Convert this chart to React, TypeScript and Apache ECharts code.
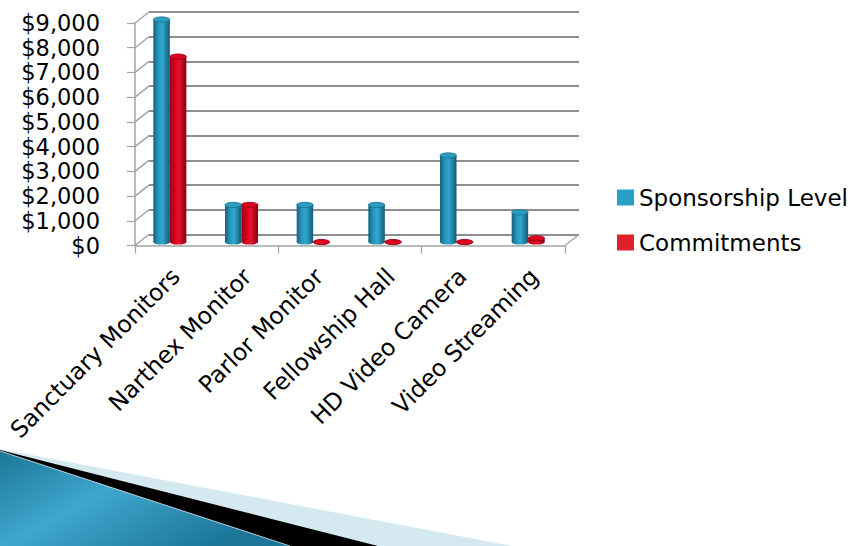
import React, { useEffect, useRef } from "react";
import * as echarts from "echarts";

const categories = [
  "Sanctuary Monitors",
  "Narthex Monitor",
  "Parlor Monitor",
  "Fellowship Hall",
  "HD Video Camera",
  "Video Streaming",
];
const sponsorship = [9000, 1500, 1500, 1500, 3500, 1200];
const commitments = [7500, 1500, 0, 0, 0, 150];
const yTicks = [0, 1000, 2000, 3000, 4000, 5000, 6000, 7000, 8000, 9000];
const seriesNames = ["Sponsorship Level", "Commitments"];

const FONT = "DejaVu Sans";
const BAR_W = 16.5;
const DEPTH_X = 14;
const DEPTH_Y = 11;

const blueBody = [
  { offset: 0, color: "#175f79" },
  { offset: 0.3, color: "#2596bc" },
  { offset: 0.55, color: "#31a8cf" },
  { offset: 1, color: "#145a73" },
];
const redBody = [
  { offset: 0, color: "#94000f" },
  { offset: 0.3, color: "#d8001b" },
  { offset: 0.55, color: "#e8132c" },
  { offset: 1, color: "#86000e" },
];

function cylinder(sign: number, stops: any[], topFill: string, topStroke: string) {
  return (params: any, api: any) => {
    const idx = api.value(0);
    const val = api.value(1);
    const top = api.coord([idx, val]);
    const base = api.coord([idx, 0]);
    const cx = top[0] + (sign * BAR_W) / 2;
    const x0 = cx - BAR_W / 2;
    const ry = 2.6;
    const h = Math.max(0, base[1] - top[1]);
    const grad = { type: "linear", x: 0, y: 0, x2: 1, y2: 0, colorStops: stops };
    return {
      type: "group",
      children: [
        {
          type: "ellipse",
          shape: { cx, cy: base[1], rx: BAR_W / 2, ry },
          style: { fill: grad },
        },
        {
          type: "rect",
          shape: { x: x0, y: top[1], width: BAR_W, height: h },
          style: { fill: grad },
        },
        {
          type: "ellipse",
          shape: { cx, cy: top[1], rx: BAR_W / 2, ry },
          style: { fill: topFill, stroke: topStroke, lineWidth: 0.8 },
        },
      ],
    };
  };
}

export default function App() {
  const ref = useRef<HTMLDivElement>(null);
  useEffect(() => {
    if (!ref.current) return;
    const chart = echarts.init(ref.current, undefined, { renderer: "svg" });
    const axisGray = "#a3a3a3";
    const option: any = {
      animation: false,
      backgroundColor: "#ffffff",
      color: ["#2aa1c4", "#e1202e"],
      grid: [
        // front axes
        { left: 135, top: 23, width: 430, height: 222.5 },
        // back wall
        { left: 149, top: 12, width: 430, height: 222.5 },
        // bars
        { left: 134, top: 19.5, width: 430, height: 222.5 },
        // rotated labels
        { left: 140, top: 23, width: 430, height: 222.5 },
      ],
      xAxis: [
        {
          gridIndex: 0,
          type: "category",
          data: categories,
          axisLine: { show: true, lineStyle: { color: axisGray, width: 1.5 } },
          axisTick: { show: true, length: 8, lineStyle: { color: axisGray, width: 1.2 } },
          axisLabel: { show: false },
        },
        {
          gridIndex: 1,
          type: "category",
          data: categories,
          show: false,
        },
        {
          gridIndex: 2,
          type: "category",
          data: categories,
          show: false,
        },
        {
          gridIndex: 3,
          type: "category",
          data: categories,
          axisLine: { show: false },
          axisTick: { show: false },
          axisLabel: {
            show: true,
            rotate: 45,
            interval: 0,
            margin: 27,
            fontSize: 23.5,
            fontFamily: FONT,
            color: "#000",
          },
        },
      ],
      yAxis: [
        {
          gridIndex: 0,
          type: "value",
          min: 0,
          max: 9000,
          interval: 1000,
          axisLine: { show: true, lineStyle: { color: axisGray, width: 1.5 } },
          axisTick: { show: true, length: 8, lineStyle: { color: axisGray, width: 1.2 } },
          splitLine: { show: false },
          axisLabel: {
            margin: 35,
            fontSize: 22.5,
            lineHeight: 20,
            showMinLabel: true,
            showMaxLabel: true,
            hideOverlap: false,
            fontFamily: FONT,
            color: "#000",
            formatter: (v: number) => "$" + v.toLocaleString("en-US"),
          },
        },
        {
          gridIndex: 1,
          type: "value",
          min: 0,
          max: 9000,
          interval: 1000,
          axisLine: { show: false },
          axisTick: { show: false },
          axisLabel: { show: false },
          splitLine: { show: true, lineStyle: { color: "#8e8e8e", width: 2 } },
        },
        {
          gridIndex: 2,
          type: "value",
          min: 0,
          max: 9000,
          show: false,
          splitLine: { show: false },
        },
        {
          gridIndex: 3,
          type: "value",
          min: 0,
          max: 9000,
          show: false,
          splitLine: { show: false },
        },
      ],
      legend: {
        data: seriesNames,
        orient: "vertical",
        left: 612,
        top: 180,
        icon: "rect",
        itemWidth: 17,
        itemHeight: 16,
        itemGap: 20,
        selectedMode: false,
        textStyle: { fontSize: 23, fontFamily: FONT, color: "#000", lineHeight: 25 },
      },
      series: [
        {
          name: "wall",
          type: "custom",
          xAxisIndex: 0,
          yAxisIndex: 0,
          silent: true,
          data: yTicks.map((v) => [0, v]),
          renderItem: (params: any, api: any) => {
            const p = api.coord([api.value(0), api.value(1)]);
            const half = api.size([1, 0])[0] / 2;
            const x = p[0] - half;
            return {
              type: "line",
              shape: { x1: x, y1: p[1], x2: x + DEPTH_X, y2: p[1] - DEPTH_Y },
              style: { stroke: axisGray, lineWidth: 1.5 },
            };
          },
        },
        {
          name: "floorEdge",
          type: "custom",
          xAxisIndex: 0,
          yAxisIndex: 0,
          silent: true,
          data: [[categories.length - 1, 0]],
          renderItem: (params: any, api: any) => {
            const p = api.coord([api.value(0), api.value(1)]);
            const half = api.size([1, 0])[0] / 2;
            const x = p[0] + half;
            return {
              type: "line",
              shape: { x1: x, y1: p[1], x2: x + DEPTH_X, y2: p[1] - DEPTH_Y },
              style: { stroke: axisGray, lineWidth: 1.5 },
            };
          },
        },
        {
          name: seriesNames[0],
          type: "custom",
          xAxisIndex: 2,
          yAxisIndex: 2,
          itemStyle: { color: "#2aa1c4" },
          data: sponsorship.map((v, i) => [i, v]),
          renderItem: cylinder(-1, blueBody, "#2a9dc3", "#1a6d89"),
          z: 3,
        },
        {
          name: seriesNames[1],
          type: "custom",
          xAxisIndex: 2,
          yAxisIndex: 2,
          itemStyle: { color: "#e1202e" },
          data: commitments.map((v, i) => [i, v]),
          renderItem: cylinder(1, redBody, "#dc041f", "#930010"),
          z: 3,
        },
      ],
      graphic: [
        {
          type: "polygon",
          silent: true,
          shape: { points: [[0, 449], [512, 546], [0, 546]] },
          style: { fill: "#d5e9f1" },
        },
        {
          type: "polygon",
          silent: true,
          shape: { points: [[0, 450], [378, 546], [0, 546]] },
          style: { fill: "#000000" },
        },
        {
          type: "polygon",
          silent: true,
          shape: { points: [[0, 451], [290, 546], [0, 546]] },
          style: {
            fill: new echarts.graphic.LinearGradient(0, 0, 1, 0.6, [
              { offset: 0, color: "#1b7797" },
              { offset: 0.45, color: "#3fa6cd" },
              { offset: 1, color: "#1a7597" },
            ]),
          },
        },
        {
          type: "line",
          silent: true,
          shape: { x1: 0, y1: 451, x2: 290, y2: 546 },
          style: { stroke: "rgba(220,240,250,0.8)", lineWidth: 1 },
        },
      ],
    };
    chart.setOption(option);
    return () => chart.dispose();
  }, []);
  return (
    <div
      ref={ref}
      style={{ position: "absolute", left: 0, top: 0, width: 850, height: 546 }}
    />
  );
}
